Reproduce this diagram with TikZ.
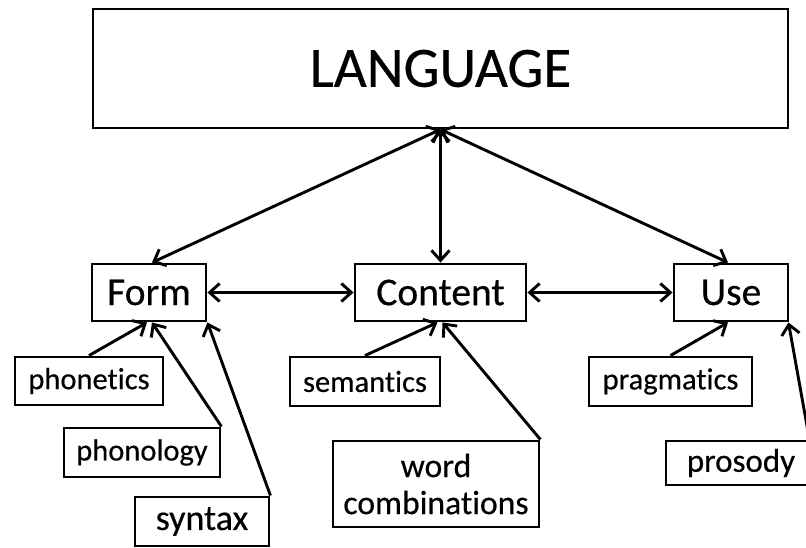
\documentclass[tikz,border=0pt]{standalone}
\usepackage{fontspec}
\setmainfont[Ligatures=NoCommon, FakeBold=0.4]{Carlito}
\usetikzlibrary{arrows.meta,calc}

\tikzset{
  box/.style={draw, line width=2.9pt, rectangle, inner sep=0pt, align=center},
  link/.style={line width=2.9pt, {Straight Barb[length=10pt,width=18pt]}-{Straight Barb[length=10pt,width=18pt]}},
  feed/.style={line width=2.9pt, -{Straight Barb[length=10pt,width=18pt]}},
  big/.style={font=\fontsize{57}{60}\selectfont},
  mid/.style={font=\fontsize{39.5}{42}\selectfont},
  small/.style={font=\fontsize{30.5}{34}\selectfont}
}

\begin{document}
\begin{tikzpicture}[x=1pt,y=-1pt]
\useasboundingbox (0,0) rectangle (806,548);

% top concept
\node[box, big, minimum width=695pt, minimum height=119pt] (lang) at (440.5,68.5) {LANGUAGE};

% the three components
\node[box, mid, minimum width=114pt, minimum height=57pt] (form) at (149,292.5) {Form};
\node[box, mid, minimum width=171pt, minimum height=57pt] (content) at (440.5,292.5) {Content};
\node[box, mid, minimum width=114pt, minimum height=57pt] (use) at (731,292.5) {Use};

% sub-areas
\node[box, small, minimum width=148pt, minimum height=48pt] (phonetics) at (89,381) {phonetics};
\node[box, small, minimum width=156pt, minimum height=49pt] (phonology) at (142,452.5) {phonology};
\node[box, font=\fontsize{36}{40}\selectfont, minimum width=134pt, minimum height=49pt] (syntax) at (202,521.5) {syntax};
\node[box, small, minimum width=150pt, minimum height=49pt] (semantics) at (365,381.5) {semantics};
\node[box, font=\fontsize{33.7}{37}\selectfont, minimum width=206pt, minimum height=86pt] (wordcomb) at (436,484) {word\\combinations};
\node[box, small, minimum width=163pt, minimum height=49pt] (pragmatics) at (670.5,381.5) {pragmatics};
\node[box, font=\fontsize{33}{36}\selectfont, minimum width=142pt, minimum height=44pt] (prosody) at (737,463) {\hspace{8pt}prosody};

% language to components
\draw[link] (lang.south) -- ([xshift=3pt]form.north);
\draw[link] (lang.south) -- (content.north);
\draw[link] (lang.south) -- ([xshift=-3pt]use.north);

% between components
\draw[link] (form.east) -- (content.west);
\draw[link] (content.east) -- (use.west);

% sub-areas feeding components
\draw[feed] (phonetics.north) -- ([xshift=-2pt]form.south);
\draw[feed] (phonology.north east) -- ([xshift=3pt]form.south);
\draw[feed] (syntax.north east) -- (form.south east);
\draw[feed] (semantics.north) -- ([xshift=-3pt]content.south);
\draw[feed] (wordcomb.north east) -- ([xshift=2pt]content.south);
\draw[feed] (pragmatics.north) -- ([xshift=-3pt]use.south);
\draw[feed] (prosody.north east) -- ([xshift=-1pt]use.south east);
\end{tikzpicture}
\end{document}
